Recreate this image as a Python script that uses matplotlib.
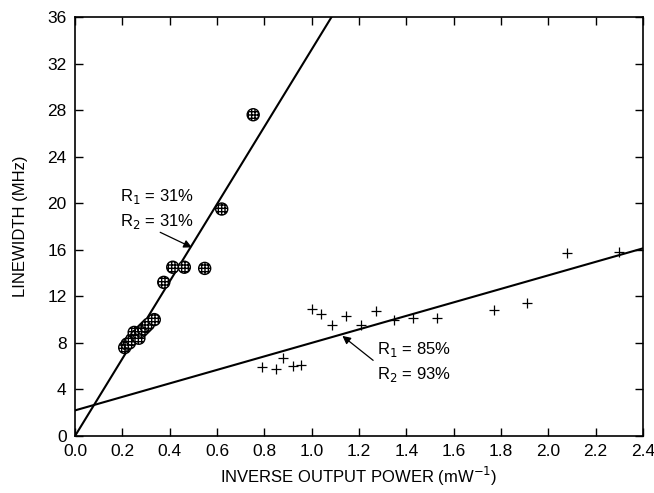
import matplotlib.pyplot as plt
import numpy as np

plt.rcParams['font.family'] = ['Liberation Sans', 'DejaVu Sans']

# circles: R1 = R2 = 31%
circ_x = [0.21, 0.22, 0.23, 0.24, 0.25, 0.26, 0.27, 0.28, 0.29, 0.30, 0.31,
          0.335, 0.375, 0.413, 0.462, 0.548, 0.62, 0.753]
circ_y = [7.6, 7.9, 8.0, 8.3, 8.9, 8.6, 8.4, 9.0, 9.2, 9.4, 9.6,
          10.0, 13.2, 14.5, 14.5, 14.4, 19.5, 27.6]

# pluses: R1 = 85%, R2 = 93%
plus_x = [0.79, 0.85, 0.88, 0.92, 0.955, 1.0, 1.04, 1.085, 1.145, 1.21, 1.27,
          1.35, 1.43, 1.53, 1.77, 1.91, 2.08, 2.30]
plus_y = [5.9, 5.75, 6.7, 6.0, 6.1, 10.9, 10.5, 9.5, 10.3, 9.5, 10.7,
          10.0, 10.1, 10.1, 10.8, 11.4, 15.7, 15.8]

# fitted lines (slope, intercept)
fit1 = (33.2, 0.0)
fit2 = (5.8, 2.2)

xticks = [0.0, 0.2, 0.4, 0.6, 0.8, 1.0, 1.2, 1.4, 1.6, 1.8, 2.0, 2.2, 2.4]
yticks = [0, 4, 8, 12, 16, 20, 24, 28, 32, 36]

fig = plt.figure(figsize=(6.54, 4.93), dpi=100)
ax = fig.add_axes([0.1147, 0.1156, 0.8683, 0.85])

xx = np.array([0.0, 2.4])
ax.plot(xx, fit1[0] * xx + fit1[1], color='black', lw=1.5)
ax.plot(xx, fit2[0] * xx + fit2[1], color='black', lw=1.5)

ax.scatter(circ_x, circ_y, s=75, facecolor='white', edgecolor='black',
           hatch='+++++', linewidths=1.0, zorder=3)
ax.scatter(plus_x, plus_y, s=55, marker='+', color='black', linewidths=0.9, zorder=3)

# labels and arrows
ax.text(0.19, 18.05, 'R$_1$ = 31%\nR$_2$ = 31%', fontsize=12, linespacing=1.45,
        ha='left', va='baseline')
ax.annotate('', xy=(0.494, 16.2), xytext=(0.36, 17.5),
            arrowprops=dict(arrowstyle='-|>', color='black', lw=0.9,
                            mutation_scale=12, shrinkA=0, shrinkB=0))
ax.text(1.275, 4.9, 'R$_1$ = 85%\nR$_2$ = 93%', fontsize=12, linespacing=1.45,
        ha='left', va='baseline')
ax.annotate('', xy=(1.13, 8.6), xytext=(1.26, 6.5),
            arrowprops=dict(arrowstyle='-|>', color='black', lw=0.9,
                            mutation_scale=12, shrinkA=0, shrinkB=0))

ax.set_xlim(0, 2.4)
ax.set_ylim(0, 36)
ax.set_xticks(xticks)
ax.set_xticklabels(['%.1f' % t for t in xticks])
ax.set_yticks(yticks)
ax.tick_params(direction='in', top=True, right=True, labelsize=12.5,
               length=6, width=1.0, pad=6)
for sp in ax.spines.values():
    sp.set_linewidth(1.2)

ax.set_xlabel('INVERSE OUTPUT POWER (mW$^{-1}$)', fontsize=12, labelpad=4)
ax.set_ylabel('LINEWIDTH (MHz)', fontsize=12, labelpad=14)

fig.savefig('out.png', dpi=100)
